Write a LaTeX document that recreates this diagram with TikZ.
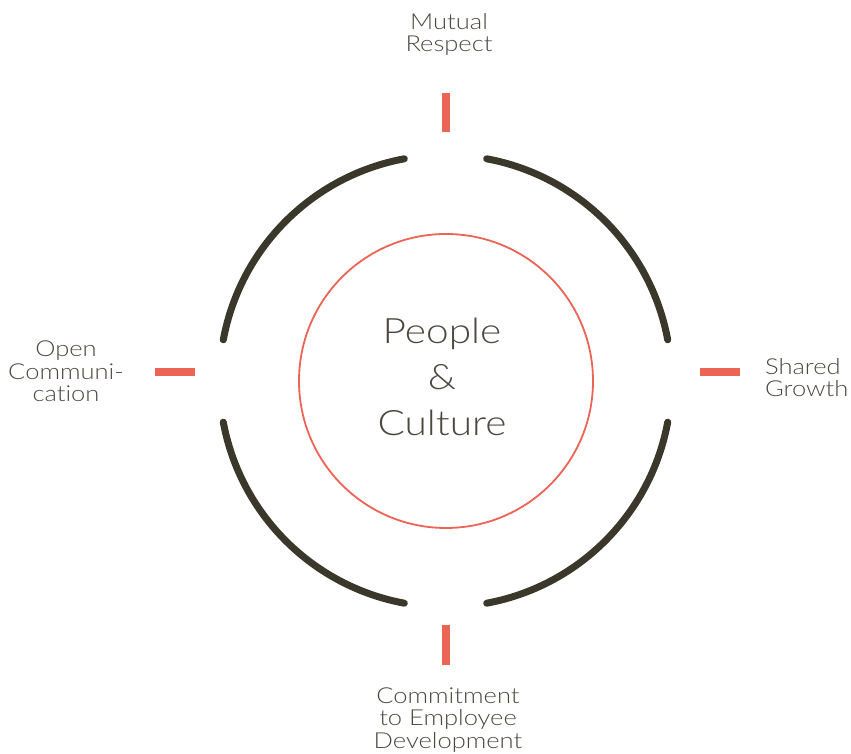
\documentclass[tikz,border=0pt]{standalone}
\usepackage{fontspec}
\setmainfont{Lato}[UprightFont={* Light},FakeStretch=1.16,Ligatures={NoCommon}]
\definecolor{ringdark}{HTML}{3B382B}
\definecolor{accent}{HTML}{EC6455}
\definecolor{txt}{HTML}{4B483E}
\begin{document}
\begin{tikzpicture}[x=1pt,y=1pt,
  ring/.style={draw=ringdark,line width=7pt,line cap=round},
  tick/.style={draw=accent,line width=7.5pt},
  lbl/.style={text=txt,inner sep=0pt,align=center,font=\fontsize{22}{22.5}\selectfont},
  core/.style={text=txt,inner sep=0pt,align=center,font=\fontsize{35}{46}\selectfont}]
\useasboundingbox (0,0) rectangle (851,754);
\coordinate (c) at (445.5,373);
% outer ring arcs
\draw[ring] (c) ++(10.5:226) arc[start angle=10.5,end angle=79.5,radius=226];
\draw[ring] (c) ++(100.5:226) arc[start angle=100.5,end angle=169.5,radius=226];
\draw[ring] (c) ++(190.5:226) arc[start angle=190.5,end angle=259.5,radius=226];
\draw[ring] (c) ++(280.5:226) arc[start angle=280.5,end angle=349.5,radius=226];
% inner circle
\draw[accent,line width=1.8pt] (446,373) circle[radius=147];
% ticks
\draw[tick] (446,661) -- (446,622);
\draw[tick] (446,129) -- (446,89);
\draw[tick] (155,382) -- (195,382);
\draw[tick] (700,382) -- (740,382);
% texts
\node[core] (pc) at (442,377) {People\\\&\\Culture};
\node[lbl] (top) at (449,719.5) {Mutual\\Respect};
\node[lbl] (left) at (66,382.5) {Open\\Communi-\\cation};
\node[lbl,anchor=west,align=left] (right) at (765,376.5) {Shared\\Growth};
\node[lbl] (bottom) at (448,34) {Commitment\\to Employee\\Development};
\end{tikzpicture}
\end{document}
